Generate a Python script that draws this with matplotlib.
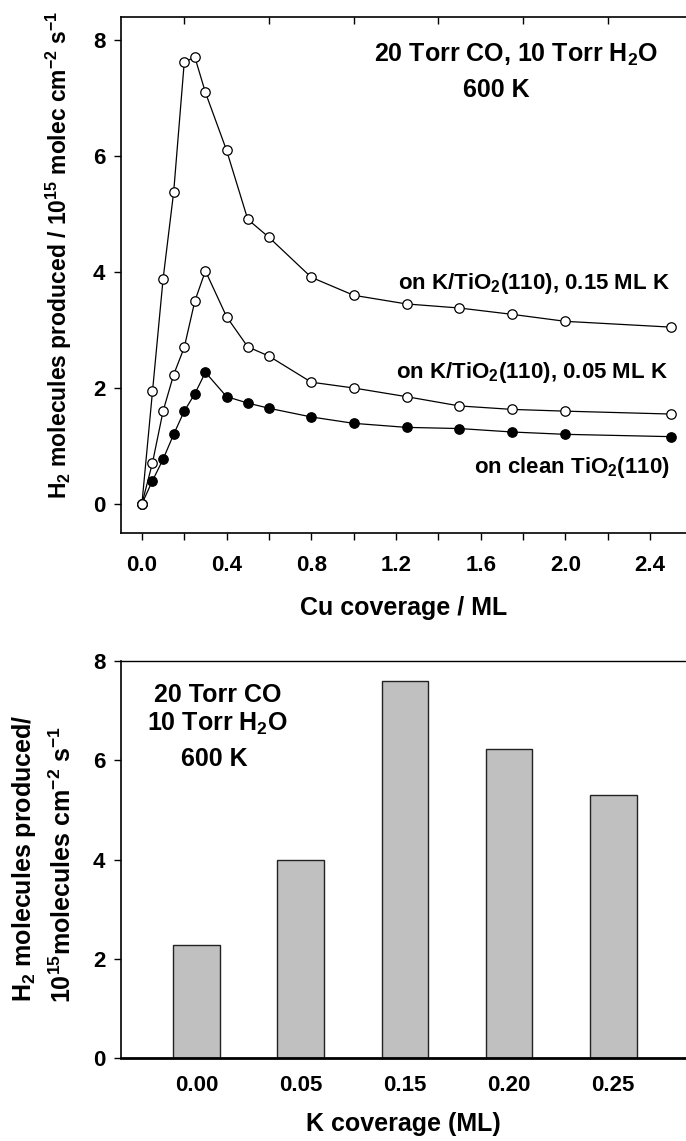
import numpy as np
import matplotlib.pyplot as plt
from matplotlib.ticker import MultipleLocator, FixedLocator

plt.rcParams['font.family'] = 'Liberation Sans'
plt.rcParams['font.weight'] = 'bold'
plt.rcParams['mathtext.fontset'] = 'custom'
plt.rcParams['mathtext.rm'] = 'Liberation Sans:bold'
plt.rcParams['mathtext.it'] = 'Liberation Sans:bold'
plt.rcParams['mathtext.bf'] = 'Liberation Sans:bold'

# top panel: H2 production vs Cu coverage
cu_cov = [0, 0.05, 0.1, 0.15, 0.2, 0.25, 0.3, 0.4, 0.5, 0.6, 0.8, 1.0, 1.25, 1.5, 1.75, 2.0, 2.5]
k015 = [0, 1.94, 3.88, 5.38, 7.62, 7.71, 7.1, 6.1, 4.91, 4.6, 3.91, 3.6, 3.45, 3.38, 3.27, 3.15, 3.05]
k005 = [0, 0.71, 1.6, 2.23, 2.7, 3.5, 4.02, 3.23, 2.71, 2.55, 2.1, 2.0, 1.85, 1.69, 1.63, 1.6, 1.55]
clean = [0, 0.4, 0.77, 1.2, 1.6, 1.9, 2.27, 1.85, 1.74, 1.65, 1.5, 1.39, 1.32, 1.3, 1.24, 1.2, 1.16]

# bottom panel: H2 production vs K coverage
k_labels = ['0.00', '0.05', '0.15', '0.20', '0.25']
k_vals = [2.27, 4.0, 7.6, 6.22, 5.3]

fig = plt.figure(figsize=(6.86, 11.41), dpi=100)

# ---- top ----
ax1 = fig.add_axes([0.176, 0.533, 0.824, 0.452])
ax1.plot(cu_cov, clean, '-o', color='black', lw=0.9, ms=6.8, mfc='black', mec='black', mew=0.9)
ax1.plot(cu_cov, k005, '-o', color='black', lw=0.9, ms=6.8, mfc='white', mec='black', mew=0.9)
ax1.plot(cu_cov, k015, '-o', color='black', lw=0.9, ms=6.8, mfc='white', mec='black', mew=0.9)
ax1.set_xlim(-0.1, 2.57)
ax1.set_ylim(-0.5, 8.4)
ax1.xaxis.set_major_locator(MultipleLocator(0.4))
ax1.xaxis.set_minor_locator(MultipleLocator(0.2))
ax1.yaxis.set_major_locator(MultipleLocator(2))
ax1.xaxis.set_major_formatter(lambda v, p: f'{v:.1f}')
ax1.tick_params(which='both', direction='out', length=5, width=1, labelsize=16)
ax1.tick_params(axis='x', pad=11)
ax1.tick_params(axis='y', pad=6)
ax1.spines['right'].set_visible(False)
for s in ['left', 'bottom', 'top']:
    ax1.spines[s].set_linewidth(1.2)
top = ax1.secondary_xaxis('top')
top.xaxis.set_major_locator(FixedLocator([0.2, 0.6, 1.0, 1.4, 1.8, 2.2]))
top.tick_params(direction='in', length=5, width=1, labeltop=False)
top.spines['top'].set_visible(False)

ax1.set_xlabel('Cu coverage / ML', fontsize=18, fontweight='bold')
ax1.xaxis.set_label_coords(0.5, -0.122)
fig.text(59 / 686, 1 - 255 / 1141,
         'H$_2$ molecules produced / 10$^{15}$ molec cm$^{-2}$ s$^{-1}$',
         rotation=90, ha='center', va='center', fontsize=16.5)

ax1.text(1.766, 7.74, '20 Torr CO, 10 Torr H$_2$O', ha='center', va='center', fontsize=18)
ax1.text(1.676, 7.14, '600 K', ha='center', va='center', fontsize=18)
ax1.text(2.495, 3.81, 'on K/TiO$_2$(110), 0.15 ML K', ha='right', va='center', fontsize=16)
ax1.text(2.485, 2.26, 'on K/TiO$_2$(110), 0.05 ML K', ha='right', va='center', fontsize=16)
ax1.text(2.495, 0.62, 'on clean TiO$_2$(110)', ha='right', va='center', fontsize=16)

# ---- bottom ----
ax2 = fig.add_axes([0.176, 0.0727, 0.824, 0.348])
xpos = np.arange(len(k_labels))
ax2.bar(xpos, k_vals, width=0.45, color='#c0c0c0', edgecolor='#222222', linewidth=1)
ax2.set_xlim(-0.73, 4.7)
ax2.set_ylim(0, 8)
ax2.set_xticks(xpos)
ax2.set_xticklabels(k_labels)
ax2.yaxis.set_major_locator(MultipleLocator(2))
ax2.tick_params(axis='x', length=0, labelsize=16, pad=12)
ax2.tick_params(axis='y', direction='out', length=5, width=1, labelsize=16, pad=6)
ax2.spines['right'].set_visible(False)
ax2.spines['left'].set_linewidth(1.2)
ax2.spines['top'].set_linewidth(1.0)
ax2.spines['bottom'].set_linewidth(2.0)
ax2.set_xlabel('K coverage (ML)', fontsize=18, fontweight='bold')
ax2.xaxis.set_label_coords(0.5, -0.136)
fig.text(24 / 686, 1 - 858 / 1141, 'H$_2$ molecules produced/',
         rotation=90, ha='center', va='center', fontsize=18)
fig.text(63 / 686, 1 - 864 / 1141, '10$^{15}$molecules cm$^{-2}$ s$^{-1}$',
         rotation=90, ha='center', va='center', fontsize=18)
ax2.text(0.2, 7.32, '20 Torr CO', ha='center', va='center', fontsize=18)
ax2.text(0.2, 6.73, '10 Torr H$_2$O', ha='center', va='center', fontsize=18)
ax2.text(0.17, 6.03, '600 K', ha='center', va='center', fontsize=18)

fig.savefig('out.png', dpi=100)
